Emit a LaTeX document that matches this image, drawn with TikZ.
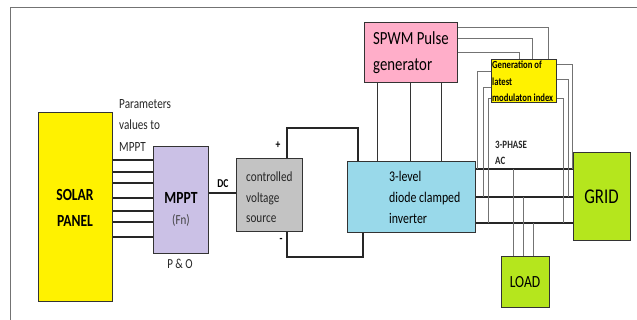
\documentclass[tikz,border=0pt]{standalone}
\usepackage{fontspec}
\setmainfont{Carlito}[FakeStretch=0.8]
\definecolor{solarY}{HTML}{FFF200}
\definecolor{mpptC}{HTML}{CBC1E6}
\definecolor{cvsC}{HTML}{C3C3C3}
\definecolor{invC}{HTML}{99D9EA}
\definecolor{spwmC}{HTML}{FFAEC9}
\definecolor{limeC}{HTML}{B5E61D}
\begin{document}
\begin{tikzpicture}[x=1pt,y=-1pt,
  box/.style={draw=black!80,line width=1pt,inner sep=0pt,anchor=center},
  wire/.style={black!85,line width=1.2pt},
  thinwire/.style={black!80,line width=0.9pt},
  ctl/.style={black!55,line width=0.8pt},
  lbl/.style={inner sep=0pt,align=left,anchor=west}]
\useasboundingbox (0,0) rectangle (637,320);
\draw[black!55,line width=0.8pt] (10,320) -- (10,7) -- (637,7);
% boxes
\node[box,fill=solarY,minimum width=74pt,minimum height=189pt,align=center,font=\fontsize{17}{26}\selectfont\bfseries] (solar) at (75,207.5) {SOLAR\\PANEL};
\node[box,fill=mpptC,minimum width=55pt,minimum height=107pt] (mppt) at (180.5,200.5) {};
\node[box,fill=cvsC,minimum width=66pt,minimum height=73pt] (cvs) at (269,195.5) {};
\node[box,fill=invC,minimum width=128pt,minimum height=71pt] (inv) at (411,197.5) {};
\node[box,fill=spwmC,minimum width=93pt,minimum height=60pt] (spwm) at (410.5,53) {};
\node[box,fill=solarY,minimum width=65pt,minimum height=43pt] (gen) at (523.5,81.5) {};
\node[box,fill=limeC,minimum width=57pt,minimum height=88pt,font=\fontsize{21}{24}\selectfont] (grid) at (601.5,197) {GRID};
\node[box,fill=limeC,minimum width=48pt,minimum height=50pt,font=\fontsize{17}{20}\selectfont] (load) at (525,282) {LOAD};
% box texts
\node[inner sep=0pt,font=\fontsize{17}{20}\selectfont\bfseries] (mpptT) at (181,198) {MPPT};
\node[inner sep=0pt,font=\fontsize{13.75}{16}\selectfont,text=black!75] (fnT) at (181,220) {(Fn)};
\node[lbl,font=\fontsize{14}{20.5}\selectfont,text=black!85] (cvsT) at (246,197.5) {controlled\\voltage\\source};
\node[lbl,font=\fontsize{14.8}{21}\selectfont] (invT) at (389,197) {3-level\\diode clamped\\inverter};
\node[lbl,font=\fontsize{18.5}{26}\selectfont] (spwmT) at (373,53) {SPWM Pulse\\generator};
\node[lbl,font=\fontsize{10.8}{16.5}\selectfont\bfseries] (genT) at (492,81.5) {Generation of\\latest\\modulaton index};
% outside labels
\node[lbl,font=\fontsize{14}{21.5}\selectfont,text=black!85] (param) at (119,125.5) {Parameters\\values to\\MPPT};
\node[inner sep=0pt,font=\fontsize{13.75}{16}\selectfont,text=black!85] (po) at (180,264) {P \& O};
\node[inner sep=0pt,font=\fontsize{12}{14}\selectfont\bfseries] (dc) at (223,184) {DC};
\node[inner sep=0pt,font=\fontsize{12}{14}\selectfont\bfseries] (plus) at (278,145) {+};
\node[inner sep=0pt,font=\fontsize{12}{14}\selectfont\bfseries] (minus) at (281,240) {-};
\node[lbl,font=\fontsize{11.2}{16}\selectfont\bfseries,text=black!85] (ac) at (495,153) {3-PHASE\\AC};
% solar to mppt
\foreach \yy in {160,172,183,198,211,222,237}
  \draw[wire] (solar.east |- 0,\yy) -- (mppt.west |- 0,\yy);
% dc
\draw[wire] (mppt.east |- 0,193) -- (cvs.west |- 0,193);
% + and -
\draw[wire] (cvs.north -| 287,0) |- (358,128) -- (inv.north -| 358,0);
\draw[wire] (cvs.south -| 287,0) |- (363,257) -- (inv.south -| 363,0);
% spwm to inverter
\foreach \xx in {377,410,441}
  \draw[thinwire] (spwm.south -| \xx,0) -- (inv.north -| \xx,0);
% spwm to gen
\draw[ctl] (spwm.east |- 0,27) -| (gen.north -| 548,0);
\draw[ctl] (spwm.east |- 0,38) -| (gen.north -| 532,0);
\draw[ctl] (spwm.east |- 0,52) -| (gen.north -| 519,0);
% AC lines
\foreach \yy in {169,197,223}
  \draw[wire] (inv.east |- 0,\yy) -- (grid.west |- 0,\yy);
% gen feedback
\draw[ctl] (gen.east |- 0,64) -| (572,169);
\draw[ctl] (gen.east |- 0,79) -| (568,197);
\draw[ctl] (gen.east |- 0,98) -| (563,223);
\draw[ctl] (gen.west |- 0,71) -| (477,169);
\draw[ctl] (gen.west |- 0,87) -| (483,197);
\draw[ctl] (gen.west |- 0,98) -| (488,223);
% load
\draw[ctl] (513,169) -- (load.north -| 513,0);
\draw[ctl] (523,197) -- (load.north -| 523,0);
\draw[ctl] (533,223) -- (load.north -| 533,0);
\end{tikzpicture}
\end{document}
